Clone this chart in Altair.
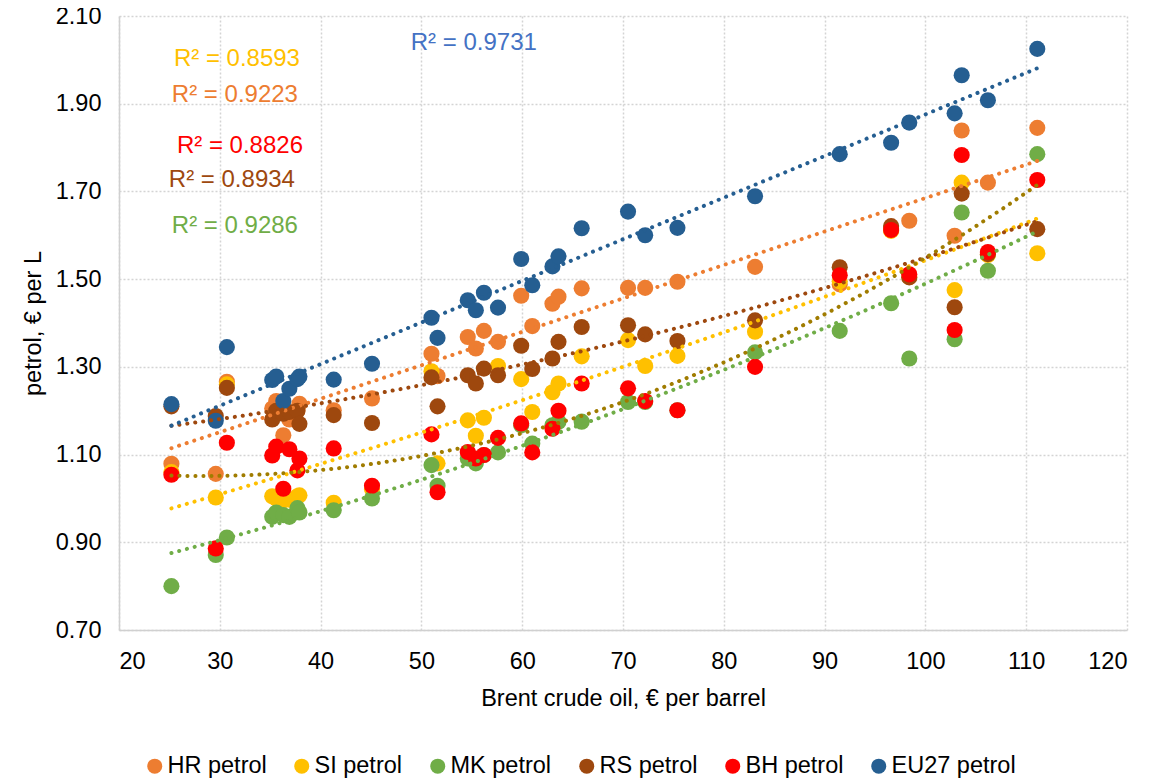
import altair as alt
import pandas as pd

brent = [25.2, 29.6, 30.7, 35.2, 35.6, 36.3, 36.9, 37.7, 37.9, 41.3, 45.1, 51.0, 51.6,
         54.6, 55.4, 56.2, 57.6, 59.9, 61.0, 63.0, 63.6, 65.9, 70.5, 72.2, 75.4, 83.1,
         91.5, 96.6, 98.4, 102.9, 103.6, 106.2, 111.1]

hr = [1.079, 1.056, 1.266, 1.205, 1.222, 1.144, 1.180, 1.200, 1.216, 1.201, 1.228, 1.330, 1.279,
      1.368, 1.342, 1.382, 1.357, 1.462, 1.393, 1.444, 1.460, 1.479, 1.480, 1.480, 1.494, 1.528,
      1.488, 1.615, 1.633, 1.599, 1.839, 1.720, 1.845]
si = [1.060, 1.002, 1.260, 1.005, 1.000, 0.996, 0.997, 1.005, 1.007, 0.990, 1.021, 1.290, 1.080,
      1.178, 1.143, 1.184, 1.302, 1.272, 1.197, 1.242, 1.262, 1.324, 1.361, 1.302, 1.325, 1.380,
      1.495, 1.610, 1.505, 1.475, 1.720, 1.555, 1.559]
mk = [0.800, 0.871, 0.911, 0.958, 0.968, 0.962, 0.958, 0.978, 0.968, 0.973, 1.000, 1.076, 1.029,
      1.091, 1.080, 1.099, 1.105, 1.167, 1.125, 1.167, 1.175, 1.175, 1.220, 1.220, 1.201, 1.333,
      1.382, 1.445, 1.319, 1.363, 1.652, 1.519, 1.785]
rs = [1.210, 1.188, 1.252, 1.180, 1.200, 1.193, 1.197, 1.200, 1.170, 1.190, 1.172, 1.276, 1.210,
      1.281, 1.262, 1.296, 1.281, 1.348, 1.295, 1.319, 1.357, 1.391, 1.395, 1.374, 1.359, 1.406,
      1.527, 1.621, 1.504, 1.436, 1.695, 1.557, 1.614]
bh = [1.054, 0.886, 1.127, 1.098, 1.118, 1.022, 1.112, 1.064, 1.091, 1.114, 1.029, 1.146, 1.014,
      1.106, 1.091, 1.099, 1.138, 1.171, 1.105, 1.159, 1.200, 1.262, 1.251, 1.222, 1.201, 1.300,
      1.509, 1.612, 1.511, 1.384, 1.783, 1.562, 1.726]
eu = [1.215, 1.177, 1.345, 1.270, 1.278, 1.222, 1.250, 1.272, 1.278, 1.271, 1.307, 1.412, 1.366,
      1.452, 1.429, 1.469, 1.435, 1.546, 1.486, 1.529, 1.552, 1.616, 1.654, 1.600, 1.617, 1.689,
      1.785, 1.811, 1.857, 1.878, 1.965, 1.908, 2.025]

series_names = ["HR petrol", "SI petrol", "MK petrol", "RS petrol", "BH petrol", "EU27 petrol"]
series_values = [hr, si, mk, rs, bh, eu]
point_colors = ["#ED7D31", "#FFC000", "#70AD47", "#9E480E", "#FF0000", "#255E91"]
trend_colors = ["#ED7D31", "#FFC000", "#70AD47", "#9E480E", "#A07C00", "#255E91"]
trend_methods = ["linear", "poly", "poly", "poly", "poly", "linear"]

r2_texts = ["R² = 0.8593", "R² = 0.9223", "R² = 0.8826", "R² = 0.8934", "R² = 0.9286", "R² = 0.9731"]
r2_x = [31.7, 31.5, 32.0, 31.2, 31.5, 55.2]
r2_y = [2.003, 1.920, 1.803, 1.726, 1.621, 2.039]
r2_colors = ["#FFC000", "#ED7D31", "#FF0000", "#9E480E", "#70AD47", "#4472C4"]

rows = []
for name, vals in zip(series_names, series_values):
    for xv, yv in zip(brent, vals):
        rows.append({"series": name, "x": xv, "y": yv})
df = pd.DataFrame(rows)

ann = pd.DataFrame({"t": r2_texts, "x": r2_x, "y": r2_y, "c": r2_colors})

FONT = "Liberation Sans"
FS = 23.5
xscale = alt.Scale(domain=[20, 120], nice=False, zero=False)
yscale = alt.Scale(domain=[0.70, 2.10], nice=False, zero=False)

xaxis = alt.Axis(values=list(range(20, 121, 10)), title="Brent crude oil, € per barrel",
                 labelPadding=19, titlePadding=14)
yaxis = alt.Axis(values=[0.7, 0.9, 1.1, 1.3, 1.5, 1.7, 1.9, 2.1], format=".2f",
                 title="petrol, € per L", labelPadding=18, titlePadding=10)

points = alt.Chart(df).mark_circle(size=260, opacity=1).encode(
    x=alt.X("x:Q", scale=xscale, axis=xaxis),
    y=alt.Y("y:Q", scale=yscale, axis=yaxis),
    color=alt.Color("series:N", sort=series_names,
                    scale=alt.Scale(domain=series_names, range=point_colors),
                    legend=alt.Legend(title=None, orient="none", direction="horizontal",
                                      columns=6, legendX=24, legendY=738,
                                      symbolType="circle", symbolSize=225,
                                      symbolStrokeWidth=0, symbolOpacity=1,
                                      labelFontSize=FS, labelOffset=1, columnPadding=23,
                                      labelFont=FONT, labelColor="#000000")),
)

trends = []
for name, col, meth in zip(series_names, trend_colors, trend_methods):
    base = alt.Chart(df).transform_filter(alt.datum.series == name)
    if meth == "poly":
        base = base.transform_regression("x", "y", method="poly", order=2)
    else:
        base = base.transform_regression("x", "y", method="linear")
    trends.append(base.mark_line(color=col, strokeWidth=4, strokeDash=[0.1, 7.9],
                                 strokeCap="round").encode(
        x=alt.X("x:Q", scale=xscale), y=alt.Y("y:Q", scale=yscale)))

labels = alt.Chart(ann).mark_text(fontSize=24, font=FONT, align="center",
                                  baseline="middle").encode(
    x=alt.X("x:Q", scale=xscale), y=alt.Y("y:Q", scale=yscale),
    text="t:N", color=alt.Color("c:N", scale=None))

chart = alt.layer(points, *trends, labels).properties(
    width=1008, height=614,
    autosize=alt.AutoSizeParams(type="none"),
    padding={"left": 111, "top": 8, "right": 20, "bottom": 150},
).configure(font=FONT).configure_view(stroke=None).configure_axis(
    labelFontSize=FS, titleFontSize=FS, labelFont=FONT, titleFont=FONT,
    labelColor="#000000", titleColor="#000000", titleFontWeight="normal",
    tickSize=0, ticks=False, gridColor="#D4D4D4", gridDash=[2, 2], gridWidth=1.5,
    domainColor="#D0D0D0", domainWidth=1.5,
)

chart.save("out.html", embed_options={"renderer": "svg", "actions": False})
